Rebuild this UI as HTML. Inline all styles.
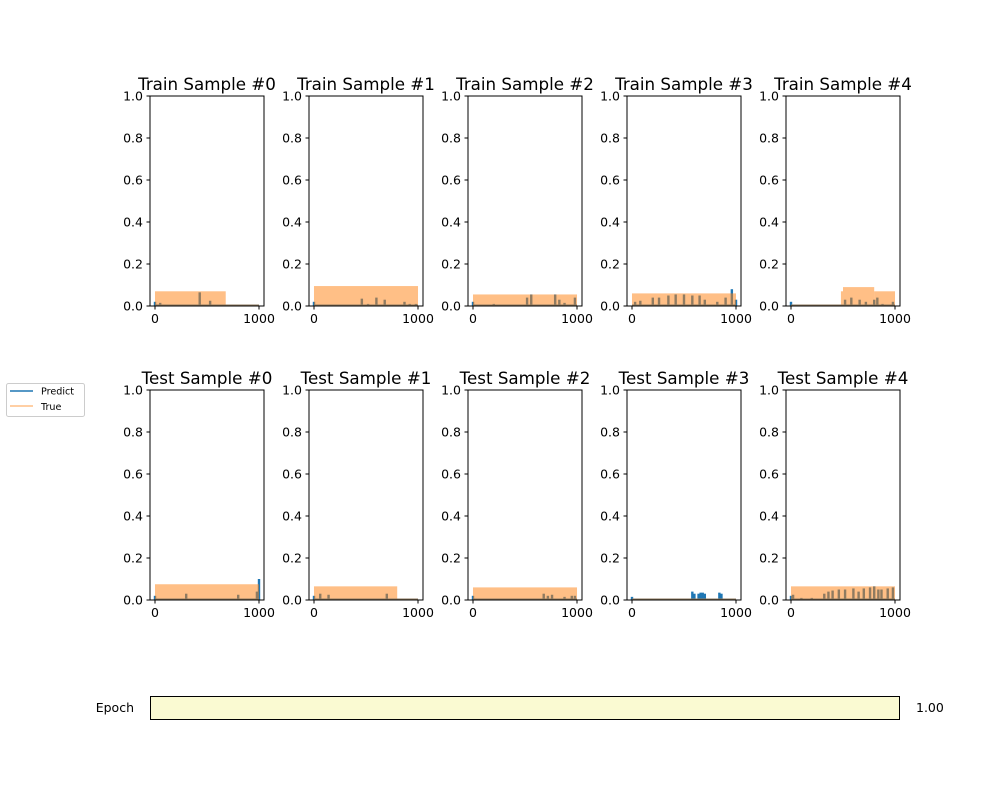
<!DOCTYPE html>
<html><head><meta charset="utf-8"><style>
html,body{margin:0;padding:0;background:#fff;}
svg{display:block;font-family:"DejaVu Sans","Liberation Sans",sans-serif;}
</style></head><body>
<svg id="fig" width="1000" height="800" xmlns="http://www.w3.org/2000/svg"></svg>
<script>
// ---- data ----
const titles = ["Train Sample #0","Train Sample #1","Train Sample #2","Train Sample #3","Train Sample #4",
  "Test Sample #0","Test Sample #1","Test Sample #2","Test Sample #3","Test Sample #4"];
const yTicks = [0,0.2,0.4,0.6,0.8,1.0];
const yTickLabels = ["0.0","0.2","0.4","0.6","0.8","1.0"];
const xTicks = [0,1000];
const xTickLabels = ["0","1000"];
// true segments: [start, end, value]
const trueSegs = [
  [[0,680,0.07],[680,1000,0.0]],
  [[0,1000,0.095]],
  [[0,1000,0.055]],
  [[0,1000,0.06]],
  [[0,480,0.006],[480,500,0.07],[500,800,0.09],[800,1000,0.07]],
  [[0,1000,0.075]],
  [[0,800,0.065],[800,1000,0.0]],
  [[0,1000,0.06]],
  [[0,500,0.006],[500,1000,0.0]],
  [[0,1000,0.065]]
];
// predict spikes: [x, value]
const predSpikes = [
  [[0,0.02],[50,0.015],[430,0.065],[530,0.025]],
  [[0,0.02],[460,0.035],[520,0.01],[600,0.04],[680,0.03],[870,0.02],[920,0.01],[980,0.01]],
  [[0,0.02],[200,0.01],[300,0.005],[520,0.04],[560,0.055],[790,0.055],[830,0.03],[880,0.015],[980,0.04]],
  [[30,0.02],[80,0.025],[200,0.04],[260,0.04],[350,0.05],[420,0.055],[500,0.055],[580,0.05],[650,0.05],[700,0.03],[820,0.02],[900,0.04],[960,0.08],[1000,0.03]],
  [[0,0.02],[520,0.03],[580,0.04],[660,0.03],[720,0.02],[800,0.03],[830,0.04],[880,0.01],[980,0.02]],
  [[0,0.02],[300,0.03],[800,0.025],[980,0.04],[1000,0.1]],
  [[0,0.02],[60,0.03],[140,0.025],[300,0.005],[700,0.03]],
  [[0,0.02],[680,0.03],[720,0.02],[760,0.025],[880,0.015],[950,0.02],[980,0.02]],
  [[0,0.015],[540,0.005],[580,0.04],[600,0.03],[640,0.03],[660,0.035],[680,0.035],[700,0.03],[840,0.035],[860,0.03]],
  [[0,0.02],[20,0.025],[100,0.01],[200,0.01],[320,0.03],[360,0.04],[400,0.045],[460,0.05],[520,0.05],[600,0.055],[650,0.04],[700,0.055],[760,0.06],[800,0.065],[840,0.05],[870,0.05],[930,0.055],[980,0.06]]
];
const epochValue = 1.00;

// ---- layout ----
const NS="http://www.w3.org/2000/svg";
const svg=document.getElementById('fig');
function mk(tag,attrs,parent){const e=document.createElementNS(NS,tag);for(const k in attrs)e.setAttribute(k,attrs[k]);(parent||svg).appendChild(e);return e;}
const colX=[150,309,468,627,786], W=114, rowY=[96,390], H=210;
const xMin=-48, xMax=1048, yMin=0, yMax=1;

titles.forEach((t,i)=>{
  const r=Math.floor(i/5), c=i%5;
  const L=colX[c], T=rowY[r];
  const sx=v=>L+(v-xMin)/(xMax-xMin)*W;
  const sy=v=>T+H-(v-yMin)/(yMax-yMin)*H;
  const g=mk('g',{});
  
  
  const base=mk('line',{x1:sx(0),x2:sx(1000),y1:sy(0)-0.8,y2:sy(0)-0.8,stroke:'#1f77b4','stroke-width':1.5},g);
  
  
  predSpikes[i].forEach(p=>{
    const s=mk('rect',{x:sx(p[0])-1.2,y:sy(p[1]),width:2.4,height:sy(0)-sy(p[1]),fill:'#1f77b4'},g);
    
    
  });
  trueSegs[i].forEach(sg=>{
    const h=Math.max(sy(0)-sy(sg[2]),1.5);
    const rr=mk('rect',{x:sx(sg[0]),y:sy(0)-h,width:sx(sg[1])-sx(sg[0]),height:h,fill:'#ff7f0e','fill-opacity':0.5},g);
    
    
  });
  const fr=mk('rect',{x:L,y:T,width:W,height:H,fill:'none',stroke:'#000','stroke-width':1},g);
  
  
  yTicks.forEach((v,k)=>{
    mk('line',{x1:L-3.5,x2:L,y1:sy(v),y2:sy(v),stroke:'#000'},g);
    const tx=mk('text',{x:L-7,y:sy(v)+4.3,'text-anchor':'end','font-size':12.5},g);
    tx.textContent=yTickLabels[k];
    
    
  });
  xTicks.forEach((v,k)=>{
    mk('line',{x1:sx(v),x2:sx(v),y1:T+H,y2:T+H+3.5,stroke:'#000'},g);
    const tx=mk('text',{x:sx(v),y:T+H+17,'text-anchor':'middle','font-size':12.5},g);
    tx.textContent=xTickLabels[k];
    
    
  });
  const tt=mk('text',{x:L+W/2,y:T-6,'text-anchor':'middle','font-size':16.7},g);
  tt.textContent=t;
  
  
});

// legend
const lg=mk('g',{});


mk('rect',{x:6.5,y:383.5,width:78,height:33,rx:2,fill:'#fff',stroke:'#ccc'},lg);
mk('line',{x1:10,x2:33,y1:391,y2:391,stroke:'#1f77b4','stroke-width':1.5},lg);
mk('line',{x1:10,x2:33,y1:406,y2:406,stroke:'#ff7f0e','stroke-opacity':0.5,'stroke-width':1.5},lg);
const l1=mk('text',{x:41,y:394.5,'font-size':9.6},lg);l1.textContent='Predict';


const l2=mk('text',{x:41,y:410,'font-size':9.6},lg);l2.textContent='True';



// slider
const sl=mk('g',{});


const sx0=150, sw=750;
mk('rect',{x:sx0+0.5,y:696.5,width:sw*epochValue-1,height:23,fill:'#fafad2'},sl);
mk('rect',{x:sx0+0.5,y:696.5,width:sw-1,height:23,fill:'none',stroke:'#000'},sl);
const el=mk('text',{x:134,y:712,'text-anchor':'end','font-size':12.5},sl);el.textContent='Epoch';


const ev=mk('text',{x:916,y:712,'font-size':12.5},sl);ev.textContent=epochValue.toFixed(2);


</script>
</body></html>
